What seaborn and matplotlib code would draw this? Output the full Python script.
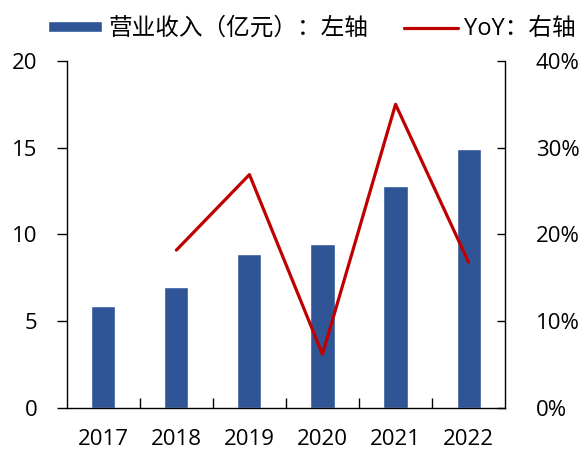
import numpy as np
import pandas as pd
import matplotlib
matplotlib.use("Agg")
import matplotlib.pyplot as plt
from matplotlib.ticker import MultipleLocator, FixedLocator, PercentFormatter
import seaborn as sns

# data
years = ["2017", "2018", "2019", "2020", "2021", "2022"]
revenue = [5.9, 7.0, 8.9, 9.45, 12.8, 14.9]        # 营业收入（亿元）
yoy_years = ["2018", "2019", "2020", "2021", "2022"]
yoy = [18.2, 26.9, 6.2, 35.0, 16.8]                # YoY, %

BAR_COLOR = "#2F5597"
LINE_COLOR = "#C00000"
FS = 16

sns.set_theme(style="white")
plt.rcParams["font.family"] = ["Open Sans", "Noto Sans CJK SC", "DejaVu Sans"]
plt.rcParams["text.color"] = "black"

df = pd.DataFrame({"year": years, "revenue": revenue})
yoy_df = pd.DataFrame({"x": [years.index(y) for y in yoy_years], "yoy": yoy})

fig = plt.figure(figsize=(5.86, 4.58), dpi=100)
ax = fig.add_axes([0.114, 0.109, 0.748, 0.758])

sns.barplot(data=df, x="year", y="revenue", color=BAR_COLOR, width=0.33,
            saturation=1, ax=ax, label="营业收入（亿元）：左轴")
ax.set_xlim(-0.5, len(years) - 0.5)
ax.set_ylim(0, 20)
ax.yaxis.set_major_locator(MultipleLocator(5))
ax.set_xlabel("")
ax.set_ylabel("")

ax2 = ax.twinx()
sns.lineplot(data=yoy_df, x="x", y="yoy", color=LINE_COLOR, linewidth=2.3,
             ax=ax2, label="YoY：右轴", legend=False)
ax2.set_ylim(0, 40)
ax2.yaxis.set_major_locator(MultipleLocator(10))
ax2.yaxis.set_major_formatter(PercentFormatter(decimals=0))
ax2.set_ylabel("")
ax2.set_xlim(-0.5, len(years) - 0.5)

# spines and ticks
for a in (ax, ax2):
    for s in a.spines.values():
        s.set_visible(False)
ax.spines["left"].set_visible(True)
ax.spines["bottom"].set_visible(True)
ax2.spines["right"].set_visible(True)
for s in ("left", "bottom"):
    ax.spines[s].set_color("black")
    ax.spines[s].set_linewidth(1.0)
ax2.spines["right"].set_color("black")
ax2.spines["right"].set_linewidth(1.0)

ax.tick_params(axis="y", left=True, direction="out", length=7, width=1,
               color="black", pad=14, labelsize=FS, labelcolor="black")
ax.tick_params(axis="x", bottom=False, pad=9, labelsize=FS, labelcolor="black")
ax.xaxis.set_minor_locator(FixedLocator(np.arange(0.5, len(years) - 1, 1)))
ax.tick_params(axis="x", which="minor", bottom=True, direction="in",
               length=7, width=1, color="black")
ax2.tick_params(axis="y", right=True, direction="in", length=6, width=1,
                color="black", pad=22, labelsize=FS, labelcolor="black")

ax.grid(False)
ax2.grid(False)

# legend at top
h1, l1 = ax.get_legend_handles_labels()
h2, l2 = ax2.get_legend_handles_labels()
fig.legend(h1 + h2, l1 + l2, loc="center", bbox_to_anchor=(0.532, 0.937),
           ncol=2, frameon=False, fontsize=17, handlelength=2.3,
           handleheight=0.35, handletextpad=0.25, columnspacing=1.5,
           borderaxespad=0, labelcolor="black")
if ax.get_legend():
    ax.get_legend().remove()

fig.savefig("out.png", dpi=100)
